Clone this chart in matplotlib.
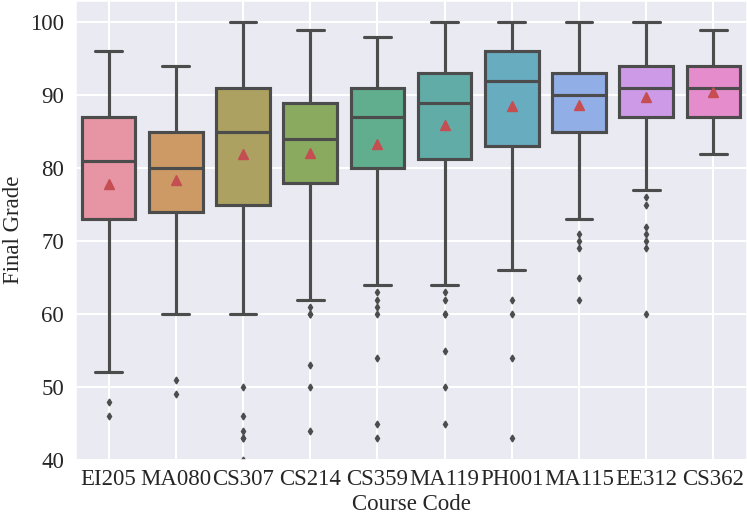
import numpy as np
import matplotlib
matplotlib.use("Agg")
import matplotlib.pyplot as plt
import matplotlib.colors as mcolors
import seaborn as sns

# course codes along x
courses = ["EI205", "MA080", "CS307", "CS214", "CS359",
           "MA119", "PH001", "MA115", "EE312", "CS362"]

# box summary values
whis_lo = [52, 60, 60, 62, 64, 64, 66, 73, 77, 82]
q1 = [73, 74, 75, 78, 80, 81.25, 83, 85, 87, 87]
medians = [81, 80, 85, 84, 87, 89, 92, 90, 91, 91]
q3 = [87, 85, 91, 89, 91, 93, 96, 93, 94, 94]
whis_hi = [96, 94, 100, 99, 98, 100, 100, 100, 100, 99]
means = [77.8, 78.4, 82.0, 82.1, 83.3, 85.9, 88.5, 88.7, 89.8, 90.4]

# outliers per course
fliers = [
    [48, 46],
    [51, 49],
    [50, 46, 44, 43, 43, 40],
    [61, 60, 60, 53, 50, 44],
    [63, 62, 61, 60, 54, 45, 43],
    [63, 62, 60, 60, 55, 50, 45],
    [62, 60, 54, 43],
    [71, 70, 69, 65, 62],
    [76, 75, 72, 71, 70, 69, 60],
    [],
]

sns.set_theme(context="talk", style="darkgrid")
plt.rcParams["font.family"] = ["Liberation Serif", "DejaVu Serif"]

stats = []
for i in range(len(courses)):
    stats.append(dict(label=courses[i], whislo=whis_lo[i], q1=q1[i],
                      med=medians[i], q3=q3[i], whishi=whis_hi[i],
                      mean=means[i], fliers=fliers[i]))

# husl palette, desaturated and mixed a bit with the background (opaque)
bg = np.array(mcolors.to_rgb("#eaeaf2"))
pal = sns.color_palette("husl", len(courses))
pal = [tuple(0.82 * np.array(sns.desaturate(c, 0.75)) + 0.18 * bg) for c in pal]
gray = "#4c4c4c"
lw = 2.25

fig = plt.figure(figsize=(7.47, 5.21), dpi=100)
ax = fig.add_axes([0.1004, 0.117, 0.8996, 0.883])

bp = ax.bxp(stats, positions=np.arange(len(courses)), widths=0.8,
            patch_artist=True, showmeans=True,
            boxprops=dict(edgecolor=gray, linewidth=lw),
            medianprops=dict(color=gray, linewidth=lw),
            whiskerprops=dict(color=gray, linewidth=lw),
            capprops=dict(color=gray, linewidth=lw),
            flierprops=dict(marker="d", markersize=3.5, markerfacecolor=gray,
                            markeredgecolor=gray, linestyle="none"),
            meanprops=dict(marker="^", markersize=7, markerfacecolor="#c44e52",
                           markeredgecolor="#c44e52"))
for patch, c in zip(bp["boxes"], pal):
    patch.set_facecolor(c)

ax.set_xlim(-0.5, len(courses) - 0.5)
ax.set_ylim(40, 103.05)
ax.set_yticks([40, 50, 60, 70, 80, 90, 100])
ax.set_xticks(np.arange(len(courses)))
ax.set_xticklabels(courses)
ax.tick_params(axis="x", labelsize=16.5, length=0, pad=6.5)
ax.tick_params(axis="y", labelsize=16.5, length=0, pad=8)
ax.set_xlabel("Course Code", fontsize=16.5, labelpad=3)
ax.set_ylabel("Final Grade", fontsize=16.5, labelpad=4)

fig.savefig("out.png", dpi=100)
